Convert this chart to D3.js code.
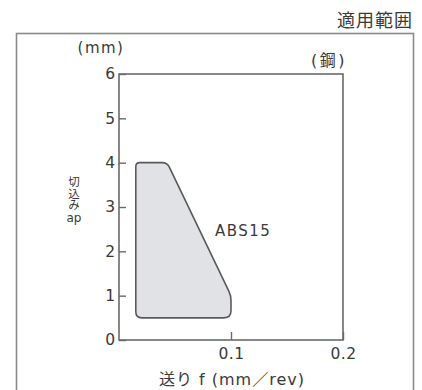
<!DOCTYPE html>
<html>
<head>
<meta charset="utf-8">
<script src="https://cdn.jsdelivr.net/npm/d3@7"></script>
<style>
  body { margin: 0; background: #fff; }
  text { font-family: "DejaVu Sans", "Noto Sans CJK JP", sans-serif; fill: #3a3a3a; }
  .jp { font-family: "Noto Sans CJK JP", sans-serif; }
</style>
</head>
<body>
<div id="chart"></div>
<script>
// data
const xTicks = [0.1, 0.2];
const yTicks = [0, 1, 2, 3, 4, 5, 6];
const areaFeed = [0.015, 0.015, 0.043, 0.1, 0.1];   // f (mm/rev)
const areaDepth = [0.5, 4, 4, 1, 0.5];               // ap (mm)
const cornerRadius = [6, 4, 5, 5, 7];
const areaName = "ABS15";

const width = 422, height = 390;
const plot = { left: 119, top: 74, right: 343, bottom: 340 };

const svg = d3.select("#chart").append("svg")
  .attr("width", width)
  .attr("height", height);

// outer frame + title
svg.append("rect")
  .attr("x", 16.5).attr("y", 33.5)
  .attr("width", 397).attr("height", 370)
  .attr("fill", "none")
  .attr("stroke", "#8a8a8a")
  .attr("stroke-width", 1.6);

svg.append("text")
  .attr("class", "jp")
  .attr("x", 413).attr("y", 27)
  .attr("text-anchor", "end")
  .attr("font-size", 18)
  .attr("letter-spacing", 1)
  .text("適用範囲");

const x = d3.scaleLinear().domain([0, 0.2]).range([plot.left, plot.right]);
const y = d3.scaleLinear().domain([0, 6]).range([plot.bottom, plot.top]);

// area of application
function roundedPolygon(pts, radii) {
  const p = d3.path();
  const n = pts.length;
  for (let i = 0; i < n; i++) {
    const prev = pts[(i - 1 + n) % n], cur = pts[i], next = pts[(i + 1) % n];
    const r = radii[i];
    const d1 = Math.hypot(prev[0] - cur[0], prev[1] - cur[1]);
    const d2 = Math.hypot(next[0] - cur[0], next[1] - cur[1]);
    const a = [cur[0] + (prev[0] - cur[0]) * r / d1, cur[1] + (prev[1] - cur[1]) * r / d1];
    const b = [cur[0] + (next[0] - cur[0]) * r / d2, cur[1] + (next[1] - cur[1]) * r / d2];
    if (i === 0) p.moveTo(a[0], a[1]); else p.lineTo(a[0], a[1]);
    p.quadraticCurveTo(cur[0], cur[1], b[0], b[1]);
  }
  p.closePath();
  return p.toString();
}

const pts = areaFeed.map((f, i) => [x(f), y(areaDepth[i])]);
svg.append("path")
  .attr("d", roundedPolygon(pts, cornerRadius))
  .attr("fill", "#e1e2e5")
  .attr("stroke", "#5a5a5a")
  .attr("stroke-width", 1.6);

svg.append("text")
  .attr("x", 215).attr("y", 236)
  .attr("font-size", 15)
  .attr("letter-spacing", 1.5)
  .text(areaName);

// axes (ticks point inwards)
const gx = svg.append("g")
  .attr("transform", `translate(0,${plot.bottom})`)
  .call(d3.axisBottom(x).tickValues(xTicks).tickSize(-8).tickPadding(8).tickFormat(d3.format(".1f")));
const gy = svg.append("g")
  .attr("transform", `translate(${plot.left},0)`)
  .call(d3.axisLeft(y).tickValues(yTicks).tickSize(-7).tickPadding(4).tickFormat(d3.format("d")));
[gx, gy].forEach(g => {
  g.select(".domain").remove();
  g.selectAll("line").attr("stroke", "#6a6a6a").attr("stroke-width", 1.4);
  g.selectAll("text").attr("font-size", 15.5).attr("fill", "#3a3a3a")
    .style("font-family", '"DejaVu Sans", sans-serif');
});
gx.selectAll("text").attr("letter-spacing", 0.5);

// plot frame
svg.append("rect")
  .attr("x", plot.left).attr("y", plot.top)
  .attr("width", plot.right - plot.left).attr("height", plot.bottom - plot.top)
  .attr("fill", "none")
  .attr("stroke", "#6a6a6a")
  .attr("stroke-width", 1.6);

// labels
svg.append("text")
  .attr("x", 101).attr("y", 53)
  .attr("text-anchor", "middle")
  .attr("font-size", 15)
  .attr("letter-spacing", 1.5)
  .text("(mm)");

svg.append("text")
  .attr("x", 347).attr("y", 66)
  .attr("text-anchor", "end")
  .attr("font-size", 16)
  .attr("letter-spacing", 2.5)
  .text("(鋼)");

// vertical y label: 切込み stacked, then "ap"
svg.append("text")
  .attr("class", "jp")
  .attr("x", 74).attr("y", 176)
  .attr("font-size", 11.5)
  .style("writing-mode", "vertical-rl")
  .style("text-orientation", "upright")
  .text("切込み");

svg.append("text")
  .attr("x", 74).attr("y", 222)
  .attr("text-anchor", "middle")
  .attr("font-size", 12)
  .text("ap");

svg.append("text")
  .attr("x", 232).attr("y", 385)
  .attr("text-anchor", "middle")
  .attr("font-size", 16)
  .attr("letter-spacing", 1)
  .text("送り f (mm／rev)");
</script>
</body>
</html>
